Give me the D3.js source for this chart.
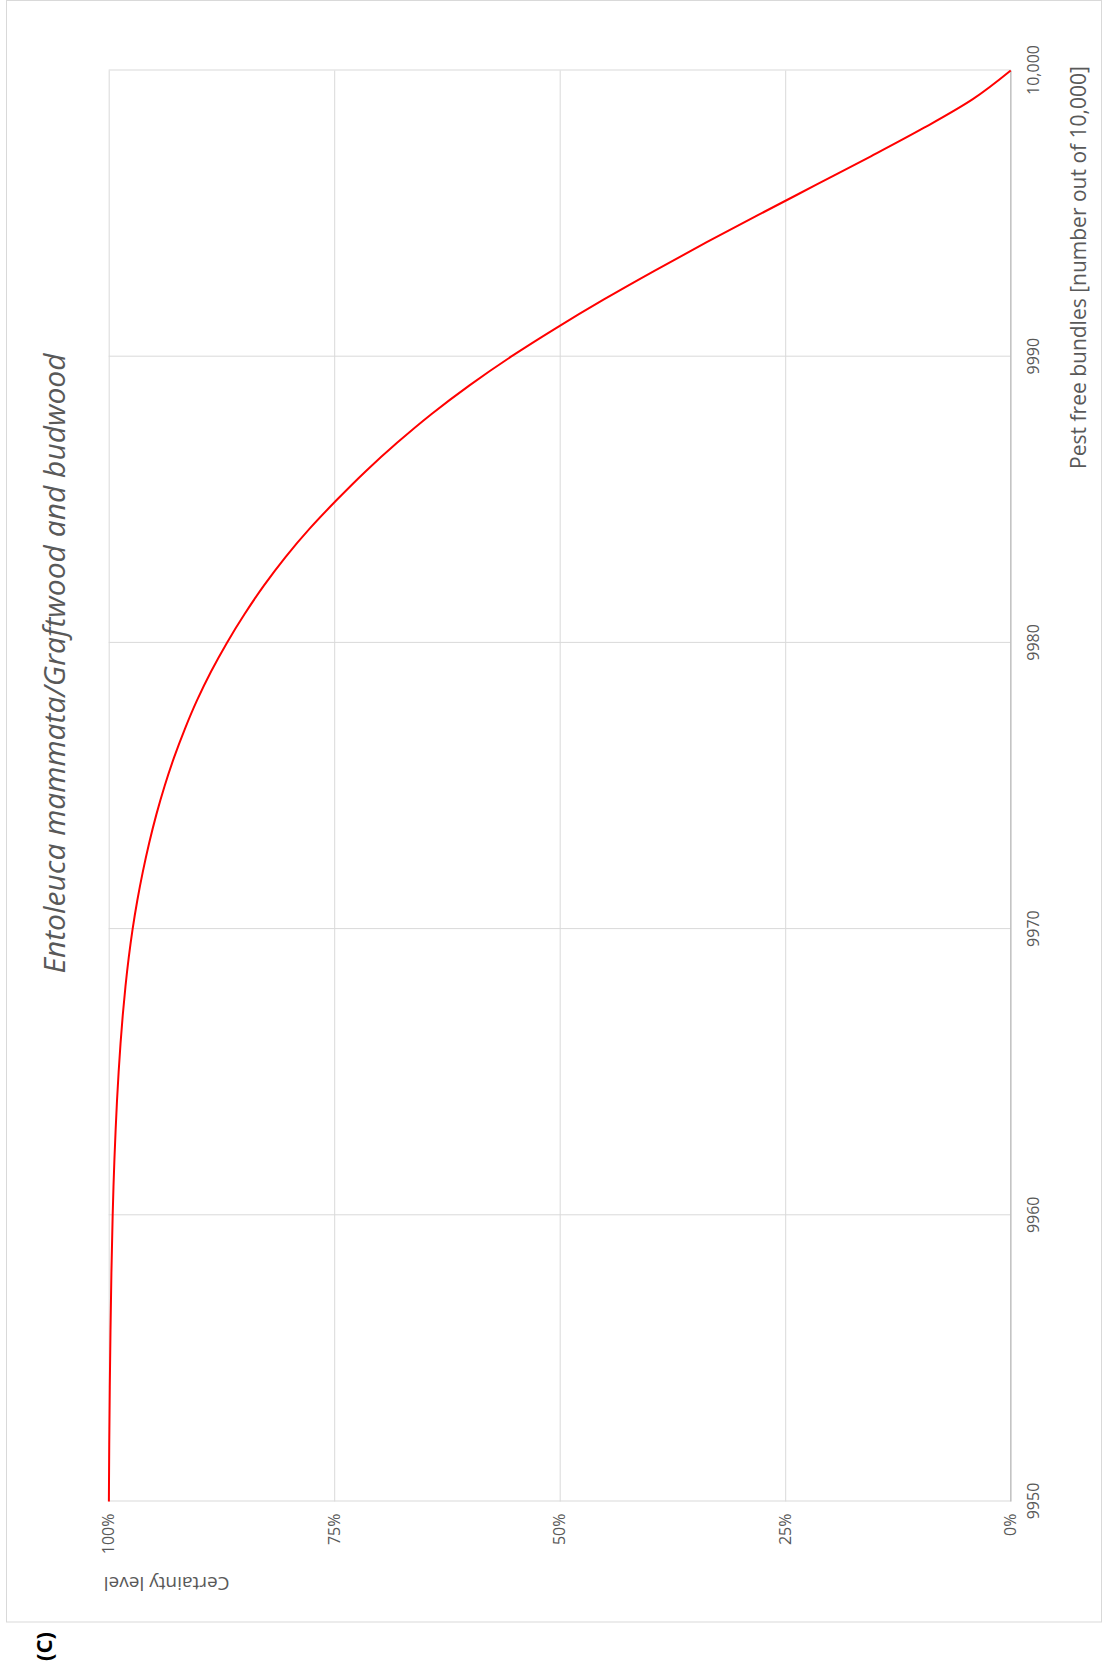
<!DOCTYPE html>
<html>
<head>
<meta charset="utf-8">
<script src="https://cdn.jsdelivr.net/npm/d3@7"></script>
<style>
  body { margin: 0; background: #fff; }
  text { font-family: "Open Sans", sans-serif; fill: #595959; }
</style>
</head>
<body>
<div id="chart"></div>
<script>
// pest free bundles (out of 10,000) and certainty level in percent
var bundles = [9950, 9952, 9954, 9956, 9958, 9960, 9961, 9962, 9963, 9964, 9965, 9966, 9967, 9968, 9969,
  9970, 9971, 9972, 9973, 9974, 9975, 9976, 9977, 9978, 9979, 9980, 9981, 9982, 9983, 9984,
  9985, 9986, 9987, 9988, 9989, 9990, 9991, 9992, 9993, 9994, 9995, 9996, 9997, 9998, 9999, 10000];
var certainty = [99.98, 99.94, 99.88, 99.8, 99.7, 99.56, 99.47, 99.36, 99.23, 99.08, 98.9, 98.69, 98.44, 98.14, 97.78,
  97.35, 96.83, 96.22, 95.52, 94.72, 93.8, 92.75, 91.55, 90.2, 88.65, 86.9, 84.95, 82.8, 80.4, 77.7,
  74.7, 71.5, 68.0, 64.2, 60.0, 55.4, 50.4, 45.1, 39.5, 33.7, 27.7, 21.6, 15.5, 9.6, 4.2, 0];

var bundleTicks = [9950, 9960, 9970, 9980, 9990, 10000];
var bundleTickLabels = ["9950", "9960", "9970", "9980", "9990", "10,000"];
var certaintyTicks = [0, 25, 50, 75, 100];
var certaintyTickLabels = ["0%", "25%", "50%", "75%", "100%"];

var chartTitle = "Entoleuca mammata/Graftwood and budwood";
var xTitle = "Pest free bundles [number out of 10,000]";
var yTitle = "Certainty level";
var panelLabel = "(C)";

var fullW = 1103, fullH = 1674;
// the chart is drawn in its own frame and then turned a quarter left
var w = 1431, h = 902;
var left = 108.7, bottom = 1501.5;

var svg = d3.select("#chart")
  .append("svg")
  .attr("width", fullW)
  .attr("height", fullH);

svg.append("rect")
  .attr("x", 0).attr("y", 0)
  .attr("width", fullW).attr("height", fullH)
  .attr("fill", "#fff");

// outer chart frame
svg.append("rect")
  .attr("x", 6.5).attr("y", 0.5)
  .attr("width", 1095).attr("height", 1621.5)
  .attr("fill", "none")
  .attr("stroke", "#d9d9d9")
  .attr("stroke-width", 1);

var g = svg.append("g")
  .attr("transform", "translate(" + left + "," + bottom + ") rotate(-90)");

var x = d3.scaleLinear().domain([9950, 10000]).range([0, w]);
var y = d3.scaleLinear().domain([0, 100]).range([h, 0]);

// gridlines
g.append("g")
  .attr("class", "grid")
  .attr("transform", "translate(0," + h + ")")
  .call(d3.axisBottom(x).tickValues(bundleTicks).tickSize(-h).tickFormat(""))
  .call(function(s) { s.select(".domain").remove(); });

g.append("g")
  .attr("class", "grid")
  .call(d3.axisLeft(y).tickValues(certaintyTicks).tickSize(-w).tickFormat(""))
  .call(function(s) { s.select(".domain").remove(); });

g.selectAll(".grid line")
  .attr("stroke", "#d9d9d9")
  .attr("stroke-width", 1);

// category axis line (0%)
g.append("line")
  .attr("x1", 0).attr("x2", w)
  .attr("y1", h).attr("y2", h)
  .attr("stroke", "#bfbfbf")
  .attr("stroke-width", 1.2);

// x axis labels
var xAxis = g.append("g")
  .attr("transform", "translate(0," + h + ")")
  .call(d3.axisBottom(x).tickValues(bundleTicks).tickSize(0).tickPadding(17)
    .tickFormat(function(d, i) { return bundleTickLabels[i]; }));
xAxis.select(".domain").remove();
xAxis.selectAll("text")
  .attr("font-size", 16)
  .attr("font-family", "'Open Sans', sans-serif")
  .attr("fill", "#595959");

// y axis labels
var yAxis = g.append("g")
  .call(d3.axisLeft(y).tickValues(certaintyTicks).tickSize(0).tickPadding(12)
    .tickFormat(function(d, i) { return certaintyTickLabels[i]; }));
yAxis.select(".domain").remove();
yAxis.selectAll("text")
  .attr("font-size", 16)
  .attr("font-family", "'Open Sans', sans-serif")
  .attr("fill", "#595959");

// the curve
var data = bundles.map(function(b, i) { return {n: b, c: certainty[i]}; });
var line = d3.line()
  .x(function(d) { return x(d.n); })
  .y(function(d) { return y(d.c); })
  .curve(d3.curveMonotoneX);

g.append("path")
  .datum(data)
  .attr("d", line)
  .attr("fill", "none")
  .attr("stroke", "#ff0000")
  .attr("stroke-width", 2);

// titles
g.append("text")
  .attr("x", 838)
  .attr("y", -44)
  .attr("text-anchor", "middle")
  .attr("font-size", 30)
  .attr("font-style", "italic")
  .attr("fill", "#7a7a7a")
  .text(chartTitle);

g.append("text")
  .attr("x", 1234)
  .attr("y", 977)
  .attr("text-anchor", "middle")
  .attr("font-size", 21)
  .attr("fill", "#595959")
  .text(xTitle);

g.append("text")
  .attr("transform", "translate(-82,58) rotate(-90)")
  .attr("text-anchor", "middle")
  .attr("dy", "0.35em")
  .attr("font-size", 19)
  .attr("fill", "#595959")
  .text(yTitle);

g.append("text")
  .attr("x", -145)
  .attr("y", -57)
  .attr("text-anchor", "middle")
  .attr("font-size", 22)
  .attr("font-weight", "bold")
  .style("fill", "#000")
  .text(panelLabel);
</script>
</body>
</html>
